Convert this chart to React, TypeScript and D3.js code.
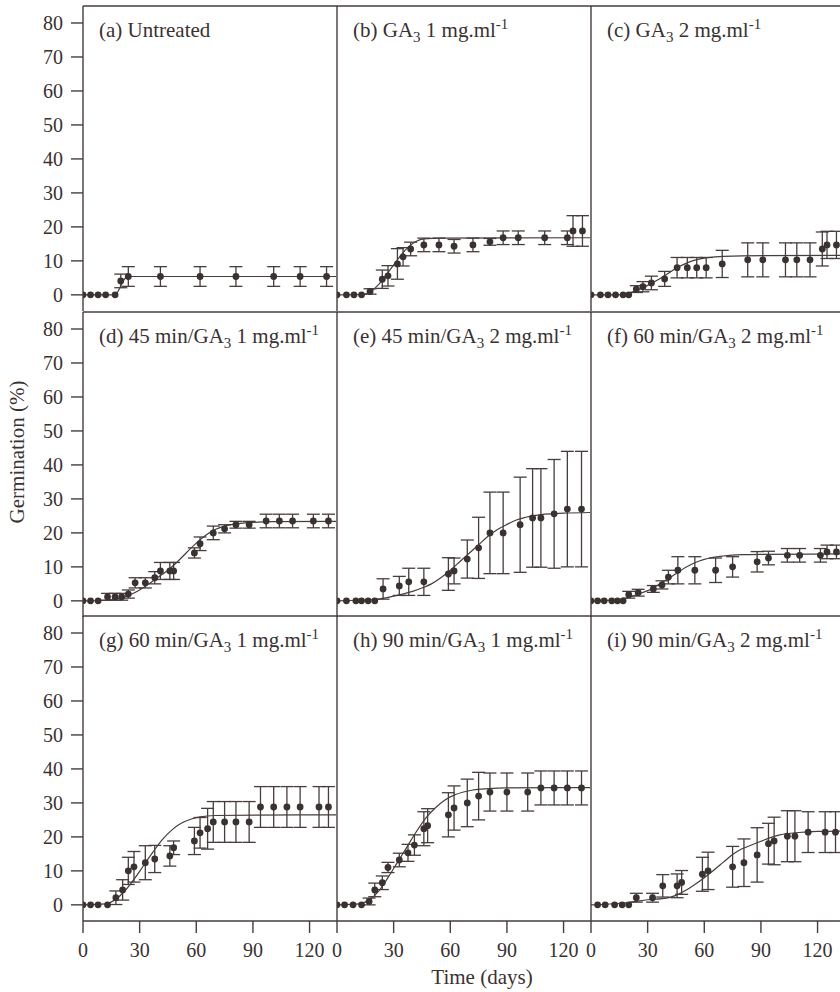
import React from 'react';
import * as d3 from 'd3';

// germination (%) over time (days), nine treatments
const daysA = [0, 4, 8, 12, 17, 20, 24, 41, 62, 81, 101, 115, 129];
const meanA = [0, 0, 0, 0, 0, 4.1, 5.4, 5.4, 5.4, 5.4, 5.4, 5.4, 5.4];
const errA = [0, 0, 0, 0, 0, 2, 2.9, 2.9, 2.9, 2.9, 2.9, 2.9, 2.9];
const fitA = [[0, 0], [17, 0], [19, 1.5], [21, 3.8], [23, 5.2], [25, 5.4], [134, 5.4]];

const daysB = [0, 5, 9, 13, 17.5, 24, 27, 32, 35, 39, 46, 54, 62, 72, 81, 88, 96, 110, 122, 125, 130];
const meanB = [0, 0, 0, 0, 1, 4.6, 5.6, 9.1, 11.2, 13.5, 14.7, 14.7, 14.3, 14.7, 15.6, 16.8, 16.8, 16.8, 16.8, 18.8, 18.8];
const errB = [0, 0, 0, 0, 0.8, 2.7, 3, 4.5, 2.7, 2, 2, 2, 2, 2, 1, 2, 2, 2, 2, 4.5, 4.5];
const fitB = [[0, 0], [14, 0.1], [18, 1], [22, 3], [26, 5.8], [30, 8.8], [34, 11.8], [38, 14.2], [42, 15.8], [46, 16.5], [55, 16.7], [134, 16.8]];

const daysC = [0, 5, 9, 13, 17, 20, 24, 27.5, 32, 39, 45.6, 51, 56, 61, 69.5, 83, 91, 103, 109, 116, 122.5, 125, 130];
const meanC = [0, 0, 0, 0, 0, 0, 1.7, 2.4, 3.5, 4.7, 8, 8, 8, 8, 9.1, 10.3, 10.3, 10.3, 10.3, 10.3, 13.5, 14.7, 14.7];
const errC = [0, 0, 0, 0, 0, 0, 1, 1.5, 2, 2.2, 3, 3, 3, 3, 4, 5, 5, 5, 5, 5, 5, 4, 4];
const fitC = [[0, 0], [15, 0], [20, 0.5], [25, 1.5], [30, 2.8], [35, 4.3], [40, 6], [45, 7.8], [50, 9.2], [55, 10.2], [60, 10.8], [70, 11.3], [80, 11.5], [134, 11.6]];

const daysD = [0, 4, 8, 13, 17, 20.5, 24, 27.6, 33, 38, 41, 46, 48, 59, 62, 69, 75, 81, 88, 97, 104, 111, 122, 130];
const meanD = [0, 0, 0, 1.2, 1.2, 1.2, 2, 5.3, 5.3, 6.8, 8.8, 8.8, 8.8, 14.1, 16.8, 20, 21.2, 22.4, 22.4, 23.5, 23.5, 23.5, 23.5, 23.5];
const errD = [0, 0, 0, 1, 1, 1, 1.2, 1.5, 1.5, 1.8, 2.5, 2.5, 2.5, 1.5, 2, 2, 1.2, 1, 1, 2, 2, 2, 2, 2];
const fitD = [[0, 0], [10, 0.1], [20, 0.8], [25, 1.8], [30, 3.2], [35, 5], [40, 7], [45, 9], [50, 11.5], [55, 14.3], [60, 17], [65, 19.3], [70, 21], [75, 22], [80, 22.6], [90, 23.1], [100, 23.3], [134, 23.4]];

const daysE = [0, 5, 10, 13, 16.5, 20, 24.4, 33, 38, 46, 59, 62, 69, 75, 81, 88, 97, 103.6, 108, 115, 122, 129.5];
const meanE = [0, 0, 0, 0, 0, 0, 3.5, 4.4, 5.6, 5.6, 7.9, 8.8, 12.3, 15.6, 20, 20, 22.4, 24.4, 24.4, 25.6, 27, 27];
const errE = [0, 0, 0, 0, 0, 0, 3, 2.8, 4, 4, 4.8, 3.8, 5.6, 9, 12, 12, 14, 14.5, 14.5, 16, 17, 17];
const fitE = [[0, 0], [20, 0.4], [30, 1.4], [40, 2.8], [46, 4], [50, 5], [55, 6.8], [60, 9], [65, 11.5], [70, 14], [75, 16.5], [80, 19], [85, 21], [90, 22.5], [95, 23.8], [100, 24.6], [110, 25.5], [120, 25.8], [134, 26]];

const daysF = [0, 3.5, 7, 11, 14, 17, 20, 25, 33, 37.6, 41, 46, 55, 66, 75, 88, 94, 104, 110.5, 121.5, 125, 130];
const meanF = [0, 0, 0, 0, 0, 0, 1.8, 2.4, 3.5, 4.7, 7, 9, 9, 9, 10, 11.5, 12.6, 13.4, 13.4, 13.4, 14.4, 14.4];
const errF = [0, 0, 0, 0, 0, 0, 1, 1, 1, 1.2, 2, 4, 4, 3.6, 3, 3, 2, 2, 2, 2, 2, 2];
const fitF = [[0, 0], [15, 0.3], [20, 1], [25, 2], [30, 3], [35, 4.5], [40, 6.2], [45, 8], [50, 9.8], [55, 11.2], [60, 12.2], [70, 13.2], [80, 13.6], [90, 13.7], [134, 13.8]];

const daysG = [0, 4, 8, 13, 17.4, 21, 24, 27, 33, 38, 46, 48, 59, 62, 66, 69, 75, 81, 88, 94, 101, 108, 115, 125, 130];
const meanG = [0, 0, 0, 0, 2.1, 4.4, 10, 11.2, 12.4, 13.5, 14.4, 16.8, 18.8, 21.2, 22.4, 24.4, 24.4, 24.4, 24.4, 28.8, 28.8, 28.8, 28.8, 28.8, 28.8];
const errG = [0, 0, 0, 0, 2, 3, 4, 4.5, 5, 4, 3, 2, 4, 4.5, 6, 6, 6, 6, 6, 6, 6, 6, 6, 6, 6];
const fitG = [[0, 0], [12, 0.3], [17, 1.5], [22, 4], [27, 7.5], [32, 11.5], [37, 15.5], [42, 19.2], [47, 22], [52, 24], [57, 25.2], [62, 25.9], [70, 26.3], [134, 26.5]];

const daysH = [0, 4, 8.5, 13, 17, 20, 24, 27, 33, 37.6, 41, 46, 48, 59, 62, 69, 75, 81, 90, 101, 108, 115, 122, 129.5];
const meanH = [0, 0, 0, 0, 1, 4.4, 6.5, 11, 13.2, 15.3, 17.6, 22.4, 23.3, 26.5, 28.5, 30, 32, 33.2, 33.2, 33.2, 34.4, 34.4, 34.4, 34.4];
const errH = [0, 0, 0, 0, 1, 2, 2, 1.5, 2, 2.5, 3, 5, 5, 6.5, 6.5, 7, 7, 5.6, 5.6, 5.6, 5, 5, 5, 5];
const fitH = [[0, 0], [12, 0.3], [17, 1.5], [22, 4], [27, 8], [32, 12.5], [37, 17], [42, 21.5], [47, 25.5], [52, 28.5], [57, 30.8], [62, 32.3], [67, 33.2], [72, 33.8], [80, 34.2], [90, 34.4], [134, 34.5]];

const daysI = [3.5, 7.5, 12.5, 16.5, 20, 24, 32.6, 38, 45.6, 48, 59, 62, 75, 81, 88, 94, 97, 104, 108, 115, 124, 129.5];
const meanI = [0, 0, 0, 0, 0, 2.1, 2.1, 5.6, 5.6, 6.6, 9, 10, 11.2, 12.4, 14.7, 18, 18.8, 20.2, 20.2, 21.4, 21.4, 21.4];
const errI = [0, 0, 0, 0, 0, 1.3, 1.3, 3.3, 3.5, 3.5, 5, 5.5, 6, 7, 8, 6, 7, 7.5, 7.5, 6, 6, 6];
const fitI = [[0, 0], [20, 0.7], [30, 1.5], [40, 2], [45, 2.8], [50, 4.2], [55, 6], [60, 8], [65, 10.2], [70, 12.5], [75, 14.8], [80, 16.5], [85, 17.6], [90, 18.7], [95, 19.8], [100, 20.6], [110, 21.3], [120, 21.6], [134, 21.7]];

// panel titles: main text, subscript, rest, superscript
const titles = [
  ['(a) Untreated', '', '', ''],
  ['(b)  GA', '3', ' 1 mg.ml', '-1'],
  ['(c)  GA', '3', ' 2 mg.ml', '-1'],
  ['(d) 45 min/GA', '3', ' 1 mg.ml', '-1'],
  ['(e) 45 min/GA', '3', ' 2 mg.ml', '-1'],
  ['(f) 60 min/GA', '3', ' 2 mg.ml', '-1'],
  ['(g) 60 min/GA', '3', ' 1 mg.ml', '-1'],
  ['(h) 90 min/GA', '3', ' 1 mg.ml', '-1'],
  ['(i) 90 min/GA', '3', ' 2 mg.ml', '-1'],
];

const xTicks = [0, 30, 60, 90, 120];
const yTicks = [0, 10, 20, 30, 40, 50, 60, 70, 80];

const panels = [
  { days: daysA, mean: meanA, err: errA, fit: fitA },
  { days: daysB, mean: meanB, err: errB, fit: fitB },
  { days: daysC, mean: meanC, err: errC, fit: fitC },
  { days: daysD, mean: meanD, err: errD, fit: fitD },
  { days: daysE, mean: meanE, err: errE, fit: fitE },
  { days: daysF, mean: meanF, err: errF, fit: fitF },
  { days: daysG, mean: meanG, err: errG, fit: fitG },
  { days: daysH, mean: meanH, err: errH, fit: fitH },
  { days: daysI, mean: meanI, err: errI, fit: fitI },
];

const colLeft = [83, 337, 591];
const rowTop = [6, 312, 616];
const panelW = 253;
const panelH = 305;
const ink = '#463d3c';
const dotInk = '#3a3131';
const font = '"Liberation Serif", "Times New Roman", serif';

function Panel({ idx }) {
  const p = panels[idx];
  const left = colLeft[idx % 3];
  const top = rowTop[Math.floor(idx / 3)];
  const x = d3.scaleLinear().domain([0, 134]).range([left, left + panelW]);
  const y = d3.scaleLinear().domain([-4.75, 85]).range([top + panelH, top]);
  const line = d3.line().x((d) => x(d[0])).y((d) => y(d[1])).curve(d3.curveMonotoneX);
  const t = titles[idx];
  const capW = 6.5;

  return (
    <g>
      <clipPath id={`clip${idx}`}>
        <rect x={left} y={top} width={panelW} height={panelH} />
      </clipPath>
      <g clipPath={`url(#clip${idx})`}>
        <path d={line(p.fit)} fill="none" stroke={ink} strokeWidth={1.2} />
        {p.days.map((d, i) =>
          p.err[i] > 0 ? (
            <g key={'e' + i} stroke={ink} strokeWidth={1.3}>
              <line x1={x(d)} x2={x(d)} y1={y(p.mean[i] - p.err[i])} y2={y(p.mean[i] + p.err[i])} />
              <line x1={x(d) - capW} x2={x(d) + capW} y1={y(p.mean[i] + p.err[i])} y2={y(p.mean[i] + p.err[i])} />
              <line x1={x(d) - capW} x2={x(d) + capW} y1={y(p.mean[i] - p.err[i])} y2={y(p.mean[i] - p.err[i])} />
            </g>
          ) : null
        )}
        {p.days.map((d, i) => (
          <circle key={'c' + i} cx={x(d)} cy={y(p.mean[i])} r={3.4} fill={dotInk} />
        ))}
      </g>
      <text x={left + 16} y={top + 31} fontSize={21} fill={dotInk} fontFamily={font}>
        {t[0]}
        {t[1] && <tspan dy={5} fontSize={15}>{t[1]}</tspan>}
        {t[2] && <tspan dy={-5}>{t[2]}</tspan>}
        {t[3] && <tspan dy={-8} fontSize={15}>{t[3]}</tspan>}
      </text>
      {/* left border */}
      <line x1={left} x2={left} y1={top} y2={top + panelH} stroke={ink} strokeWidth={1.4} />
      {/* y axis on left column */}
      {idx % 3 === 0 &&
        yTicks.map((v) => (
          <g key={'y' + v}>
            <line x1={left - 12} x2={left} y1={y(v)} y2={y(v)} stroke={ink} strokeWidth={1.4} />
            <text x={left - 20} y={y(v) + 7} textAnchor="end" fontSize={20} fill={dotInk} fontFamily={font}>
              {v}
            </text>
          </g>
        ))}
      {/* x axis on bottom row */}
      {idx >= 6 &&
        xTicks.map((v) => (
          <g key={'x' + v}>
            <line x1={x(v)} x2={x(v)} y1={top + panelH} y2={top + panelH + 12} stroke={ink} strokeWidth={1.4} />
            <text x={x(v)} y={top + panelH + 36} textAnchor="middle" fontSize={20} fill={dotInk} fontFamily={font}>
              {v}
            </text>
          </g>
        ))}
    </g>
  );
}

export default function App() {
  return (
    <svg width={840} height={992} style={{ position: 'absolute', left: 0, top: 0, background: '#fff' }}>
      {rowTop.map((t) => (
        <line key={'h' + t} x1={83} x2={840} y1={t} y2={t} stroke={ink} strokeWidth={1.4} />
      ))}
      <line x1={83} x2={840} y1={rowTop[2] + panelH} y2={rowTop[2] + panelH} stroke={ink} strokeWidth={1.4} />
      {panels.map((_, i) => (
        <Panel key={i} idx={i} />
      ))}
      <text
        transform="translate(24,452) rotate(-90)"
        textAnchor="middle"
        fontSize={21}
        fill={dotInk}
        fontFamily={font}
      >
        Germination (%)
      </text>
      <text x={482} y={984} textAnchor="middle" fontSize={21} fill={dotInk} fontFamily={font}>
        Time (days)
      </text>
    </svg>
  );
}
